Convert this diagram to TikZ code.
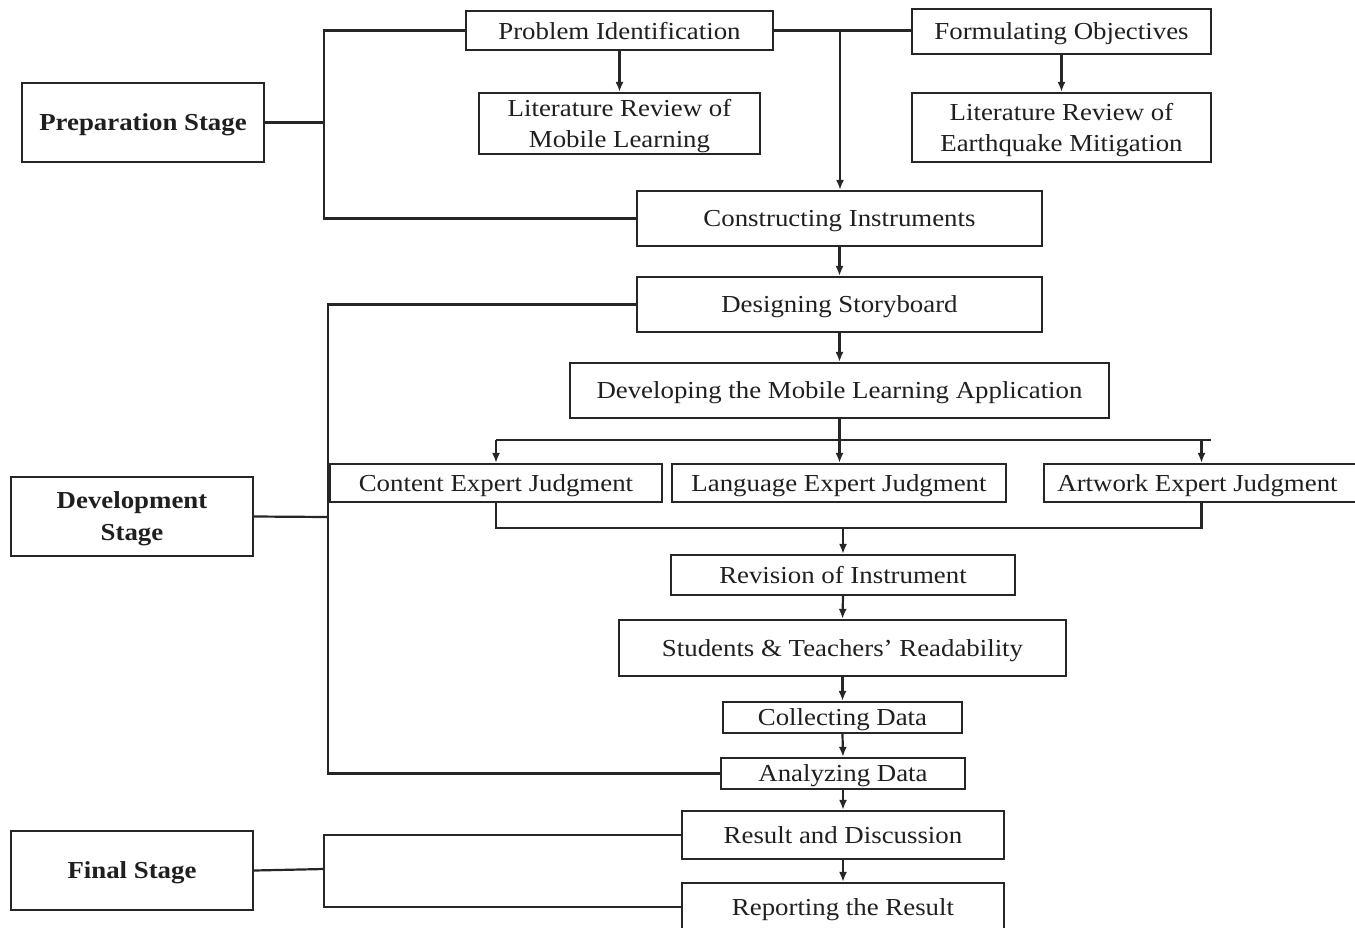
\documentclass[tikz,border=0pt]{standalone}
\usepackage{fontspec}
\setmainfont[FakeStretch=1.1]{Liberation Serif}
\usetikzlibrary{arrows.meta,calc}
\begin{document}
\begin{tikzpicture}[x=1pt,y=-1pt,
 box/.style={draw=black!85, line width=2.2pt, inner sep=0pt, align=center, text depth=0pt, font=\fontsize{24.4}{31.5}\selectfont, text=black!88},
 stagebox/.style={box, font=\fontsize{24.4}{32}\selectfont\bfseries},
 conn/.style={draw=black!85, line width=2.2pt},
 arr/.style={conn, -{Latex[length=10pt,width=8pt]}}]
\useasboundingbox (0,0) rectangle (1355,927);
% nodes
\node[stagebox, minimum width=242pt, minimum height=79pt] (prep) at (143,122.5) {Preparation Stage};
\node[box, minimum width=307pt, minimum height=39pt] (probid) at (619.5,30.5) {Problem Identification};
\node[box, minimum width=281pt, minimum height=61pt] (litml) at (619.5,123.5) {Literature Review of\\Mobile Learning};
\node[box, minimum width=299pt, minimum height=45pt] (formobj) at (1061.5,31.5) {Formulating Objectives};
\node[box, minimum width=299pt, minimum height=69pt] (liteq) at (1061.5,127.5) {Literature Review of\\Earthquake Mitigation};
\node[box, minimum width=405pt, minimum height=55pt] (constr) at (839.5,218.5) {Constructing Instruments};
\node[box, minimum width=405pt, minimum height=55pt] (design) at (839.5,304.5) {Designing Storyboard};
\node[box, minimum width=539pt, minimum height=55pt] (devapp) at (839.5,390.5) {Developing the Mobile Learning Application};
\node[box, minimum width=332pt, minimum height=38pt] (content) at (496,483) {Content Expert Judgment};
\node[box, minimum width=334pt, minimum height=38pt] (language) at (839,483) {Language Expert Judgment};
\node[box, minimum width=315pt, minimum height=38pt] (artwork) at (1201.5,483) {\hspace*{-8pt}Artwork Expert Judgment};
\node[stagebox, minimum width=242pt, minimum height=79pt] (devstage) at (132,516.5) {Development\\Stage};
\node[box, minimum width=344pt, minimum height=40pt] (revision) at (843,575) {Revision of Instrument};
\node[box, minimum width=447pt, minimum height=56pt] (students) at (842.5,648) {Students \& Teachers’ Readability};
\node[box, minimum width=239pt, minimum height=31pt] (collect) at (842.5,717.5) {Collecting Data};
\node[box, minimum width=244pt, minimum height=31pt] (analyze) at (843,773.5) {Analyzing Data};
\node[box, minimum width=322pt, minimum height=48pt] (result) at (843,835) {Result and Discussion};
\node[box, minimum width=322pt, minimum height=48pt] (report) at (843,907) {Reporting the Result};
\node[stagebox, minimum width=242pt, minimum height=79pt] (final) at (132,870.5) {Final Stage};
% preparation connectors
\coordinate (pb) at (324,122.5);
\draw[conn] (prep.east) -- (pb);
\draw[conn] (probid.west) -| (pb) |- (constr.west);
\draw[arr] (probid.south) -- (litml.north);
\draw[conn] (probid.east) -- (probid.east -| formobj.west);
\coordinate (pj) at (840,30.5);
\draw[arr] (pj) -- (pj |- constr.north);
\draw[arr] (formobj.south) -- (liteq.north);
\draw[arr] (constr.south) -- (design.north);
\draw[arr] (design.south) -- (devapp.north);
% development connectors
\coordinate (db) at (328,517);
\draw[conn] (devstage.east) -- (db);
\draw[conn] (design.west) -| (db) |- (analyze.west);
\coordinate (fj) at (839.5,440);
\coordinate (fr) at (1211,440);
\draw[conn] (devapp.south) -- (fj);
\draw[conn] (content.north |- fj) -- (fr);
\draw[arr] (content.north |- fj) -- (content.north);
\draw[arr] (fj) -- (fj |- language.north);
\draw[arr] (artwork.north |- fj) -- (artwork.north);
\coordinate (mj) at (843,528);
\draw[conn] (content.south) |- (mj) -| (artwork.south);
\draw[arr] (mj) -- (revision.north);
\draw[arr] (revision.south) -- (students.north);
\draw[arr] (students.south) -- (collect.north);
\draw[arr] (collect.south) -- (analyze.north);
\draw[arr] (analyze.south) -- (result.north);
\draw[arr] (result.south) -- (report.north);
% final connectors
\coordinate (fb) at (324,869);
\draw[conn] (final.east) -- (fb);
\draw[conn] (result.west) -| (fb) |- (report.west);
\end{tikzpicture}
\end{document}
